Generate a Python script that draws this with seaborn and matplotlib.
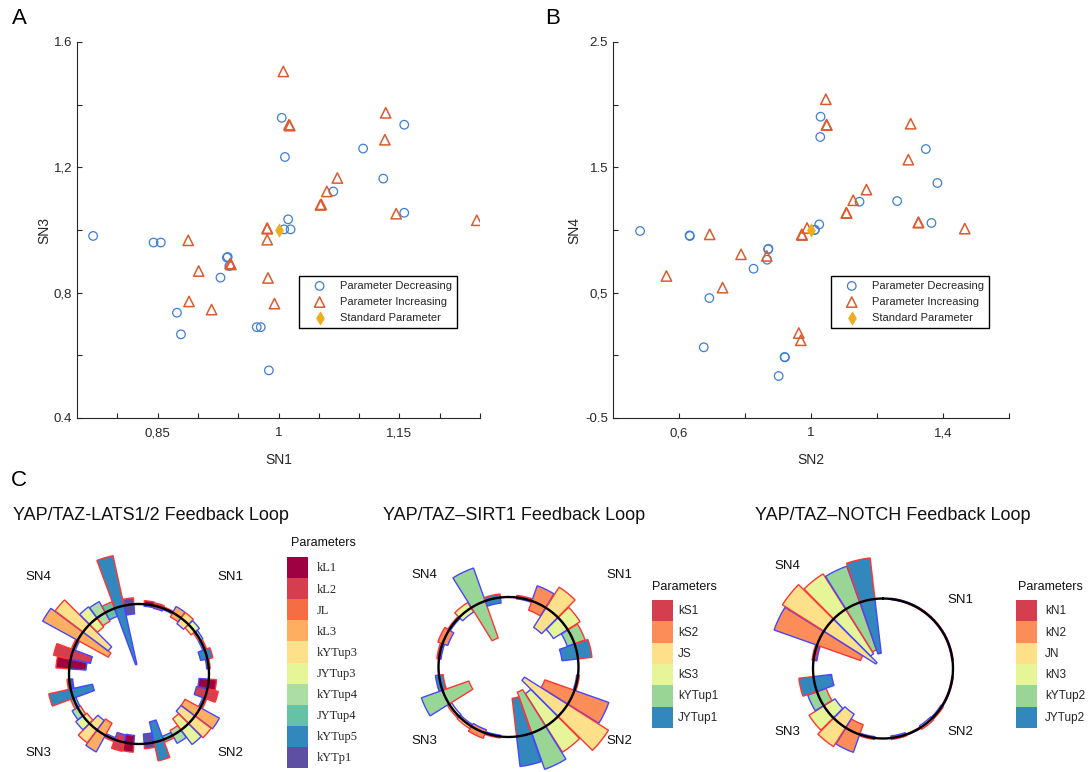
import numpy as np
import matplotlib
matplotlib.use("Agg")
import matplotlib.pyplot as plt
import seaborn as sns
from matplotlib.patches import Patch

sns.set_theme(style="ticks")
plt.rcParams['font.family'] = ['Liberation Sans', 'DejaVu Sans']

# ---------------- data: panel A (SN1 vs SN3) ----------------
A_dec_x = [0.770, 0.845, 0.854, 0.874, 0.879, 0.936, 0.937, 0.939, 0.928, 0.973, 0.978, 0.988,
           1.004, 1.008, 1.007, 1.012, 1.015, 1.068, 1.105, 1.130, 1.156, 1.156]
A_dec_y = [0.981, 0.960, 0.960, 0.736, 0.667, 0.912, 0.914, 0.885, 0.848, 0.690, 0.690, 0.552,
           1.358, 1.233, 1.002, 1.034, 1.002, 1.123, 1.260, 1.164, 1.336, 1.055]
A_inc_x = [1.006, 1.013, 1.014, 1.133, 1.132, 1.073, 1.060, 1.053, 1.052, 1.146, 1.246, 0.986,
           0.986, 0.986, 0.888, 0.940, 0.941, 0.901, 0.987, 0.889, 0.917, 0.995]
A_inc_y = [1.506, 1.336, 1.333, 1.374, 1.288, 1.166, 1.123, 1.082, 1.080, 1.052, 1.031, 1.004,
           1.006, 0.969, 0.967, 0.893, 0.890, 0.869, 0.847, 0.772, 0.746, 0.765]

# ---------------- data: panel B (SN2 vs SN4) ----------------
B_dec_x = [0.482, 0.632, 0.633, 0.692, 0.675, 0.870, 0.871, 0.867, 0.826, 0.920, 0.921, 0.902,
           1.029, 1.028, 1.011, 1.025, 1.147, 1.261, 1.348, 1.383, 1.365, 1.012]
B_dec_y = [0.992, 0.957, 0.952, 0.457, 0.064, 0.846, 0.850, 0.763, 0.691, -0.013, -0.016, -0.165,
           1.904, 1.742, 1.000, 1.045, 1.226, 1.231, 1.646, 1.375, 1.056, 1.002]
B_inc_x = [1.045, 1.047, 1.048, 1.302, 1.295, 1.168, 1.128, 1.107, 1.108, 1.325, 1.326, 1.466,
           0.988, 0.972, 0.693, 0.788, 0.866, 0.562, 0.732, 0.963, 0.969, 0.973]
B_inc_y = [2.043, 1.840, 1.837, 1.848, 1.561, 1.322, 1.237, 1.138, 1.135, 1.059, 1.062, 1.011,
           1.016, 0.965, 0.965, 0.806, 0.793, 0.633, 0.540, 0.178, 0.120, 0.960]
std_x = [1.0]
std_y = [1.0]

legend_labels = ["Parameter Decreasing", "Parameter Increasing", "Standard Parameter"]
A_xticks = [0.80, 0.85, 0.90, 0.95, 1.00, 1.05, 1.10, 1.15, 1.20, 1.25]
A_xticklabels = ["", "0,85", "", "", "1", "", "", "1,15", "", ""]
A_yticks = [0.4, 0.6, 0.8, 1.0, 1.2, 1.4, 1.6]
A_yticklabels = ["0.4", "", "0,8", "", "1,2", "", "1.6"]
B_xticks = [0.6, 0.8, 1.0, 1.2, 1.4, 1.6]
B_xticklabels = ["0,6", "", "1", "", "1,4", ""]
B_yticks = [-0.5, 0.0, 0.5, 1.0, 1.5, 2.0, 2.5]
B_yticklabels = ["-0.5", "", "0,5", "", "1.5", "", "2.5"]

# ---------------- data: panel C (polar bar charts) ----------------
sn_names = ["SN1", "SN2", "SN3", "SN4"]

lats_params = ["kL1", "kL2", "JL", "kL3", "kYTup3", "JYTup3", "kYTup4", "JYTup4", "kYTup5", "kYTp1"]
lats_inc = [[1.05, 1.04, 1.02, 0.93, 1.10, 0.93, 0.97, 1.03, 1.08, 1.02],
            [1.11, 1.16, 1.03, 0.75, 1.29, 0.80, 0.92, 1.04, 1.27, 1.07],
            [1.12, 1.13, 1.03, 0.80, 1.23, 0.93, 0.95, 1.04, 1.32, 1.03],
            [1.19, 1.25, 1.03, 0.50, 1.50, 0.84, 0.86, 1.10, 1.73, 1.09]]
lats_dec = [[0.97, 0.96, 0.98, 1.10, 0.90, 1.08, 1.04, 0.97, 0.90, 0.97],
            [0.86, 0.84, 0.97, 1.31, 0.75, 1.26, 1.13, 0.95, 0.70, 0.86],
            [0.88, 0.89, 0.97, 1.27, 0.83, 1.13, 1.09, 0.96, 0.68, 0.95],
            [0.76, 0.71, 0.97, 1.57, 0.55, 1.20, 1.18, 0.88, 0.14, 0.86]]

sirt_params = ["kS1", "kS2", "JS", "kS3", "kYTup1", "JYTup1"]
sirt_inc = [[1.03, 0.86, 1.35, 1.21, 1.16, 1.20],
            [1.02, 0.55, 1.69, 1.44, 0.38, 0.45],
            [1.02, 1.08, 1.04, 1.03, 0.60, 0.94],
            [1.03, 1.07, 1.02, 1.09, 0.44, 1.05]]
sirt_dec = [[0.98, 1.23, 0.67, 0.76, 0.89, 0.77],
            [0.98, 1.52, 0.27, 0.45, 1.55, 1.43],
            [0.98, 0.95, 0.97, 0.96, 1.32, 1.05],
            [0.97, 0.92, 0.98, 0.93, 1.50, 0.92]]

notch_params = ["kN1", "kN2", "JN", "kN3", "kYTup2", "JYTup2"]
notch_inc = [[1.01, 0.99, 1.01, 1.01, 0.99, 1.01],
             [1.01, 0.99, 1.02, 1.03, 0.99, 1.02],
             [1.02, 0.85, 1.32, 1.25, 0.86, 1.21],
             [1.02, 0.34, 1.70, 1.60, 0.28, 1.59]]
notch_dec = [[0.99, 1.01, 0.99, 0.99, 1.01, 0.99],
             [0.99, 1.01, 0.98, 0.97, 1.01, 0.97],
             [0.98, 1.27, 0.77, 0.81, 1.14, 0.74],
             [0.95, 1.65, 0.12, 0.25, 1.55, 0.22]]

pal10 = sns.color_palette(['#9E0142', '#D53E4F', '#F46D43', '#FDAE61', '#FEE08B',
                           '#E6F598', '#ABDDA4', '#66C2A5', '#3288BD', '#5E4FA2'])
pal6 = sns.color_palette(['#D53E4F', '#FC8D59', '#FEE08B', '#E6F598', '#99D594', '#3288BD'])

# ---------------- styling ----------------
BLUE = '#3F7FD3'
ORANGE = '#DE5A2C'
GOLD = '#EDAE1E'
EDGE_INC = '#FF3535'
EDGE_DEC = '#4646FF'
INK = '#262626'

W, H = 1088, 772
fig = plt.figure(figsize=(W / 100, H / 100), dpi=100)


def fx(x):
    return x / W


def fy(y):
    return 1 - y / H


def scatter_panel(ax, dx, dy, ix, iy, xlabel, ylabel, xlim, ylim,
                  xticks, xtl, yticks, ytl, ylabelpad):
    sns.scatterplot(x=dx, y=dy, ax=ax, marker='o', s=38, facecolor='none',
                    edgecolor=BLUE, linewidth=0.9, label=legend_labels[0], zorder=3)
    sns.scatterplot(x=ix, y=iy, ax=ax, marker='^', s=55, facecolor='none',
                    edgecolor=ORANGE, linewidth=1.1, label=legend_labels[1], zorder=3)
    sns.scatterplot(x=std_x, y=std_y, ax=ax, marker='d', s=45, color=GOLD,
                    edgecolor=GOLD, linewidth=0.5, label=legend_labels[2], zorder=4)
    ax.set_xlim(*xlim)
    ax.set_ylim(*ylim)
    ax.set_xticks(xticks)
    ax.set_xticklabels(xtl)
    ax.set_yticks(yticks)
    ax.set_yticklabels(ytl)
    sns.despine(ax=ax)
    for s in ('left', 'bottom'):
        ax.spines[s].set_linewidth(0.8)
        ax.spines[s].set_color(INK)
    ax.tick_params(axis='both', direction='in', length=3.5, width=0.8,
                   labelsize=9.5, colors=INK)
    ax.tick_params(axis='x', pad=6.5)
    ax.tick_params(axis='y', pad=3.5)
    ax.set_xlabel(xlabel, fontsize=10, labelpad=10, color=INK)
    ax.set_ylabel(ylabel, fontsize=10, labelpad=ylabelpad, color=INK)
    ax.grid(False)
    leg = ax.legend(loc='upper left', bbox_to_anchor=(0.551, 0.378), frameon=True,
                    fancybox=False, edgecolor='black', framealpha=1, fontsize=8,
                    borderaxespad=0, borderpad=0.45, labelspacing=0.55,
                    handlelength=2.8, handletextpad=0.4, scatterpoints=1)
    leg.get_frame().set_linewidth(1.0)


axA = fig.add_axes([fx(77), fy(418), (480 - 77) / W, (418 - 42) / H])
scatter_panel(axA, A_dec_x, A_dec_y, A_inc_x, A_inc_y, "SN1", "SN3", (0.75, 1.25), (0.4, 1.6),
              A_xticks, A_xticklabels, A_yticks, A_yticklabels, 1.5)

axB = fig.add_axes([fx(613), fy(418), (1009 - 613) / W, (418 - 42) / H])
scatter_panel(axB, B_dec_x, B_dec_y, B_inc_x, B_inc_y, "SN2", "SN4", (0.4, 1.6), (-0.5, 2.5),
              B_xticks, B_xticklabels, B_yticks, B_yticklabels, 3)

for letter, (px, py) in zip("ABC", [(19, 18), (553, 18), (19, 480)]):
    fig.text(fx(px), fy(py), letter, fontsize=16, ha='center', va='center', color='black')


# ---------------- polar charts ----------------
R_MAX = 2.0
R_PX = 70


def polar_chart(cx, cy, params, colors, inc, dec, title, title_x,
                sn_pos, leg_left, leg_top, box_px, leg_fs, leg_family, leg_gap, ptitle_pos):
    half = R_MAX * R_PX
    ax = fig.add_axes([fx(cx - half), fy(cy + half), 2 * half / W, 2 * half / H],
                      projection='polar')
    ax.set_theta_zero_location('N')
    ax.set_theta_direction(-1)
    ax.set_ylim(0, R_MAX)
    ax.set_axis_off()
    n = len(params)
    slot = (np.pi / 2) / (n + 1)
    for q in range(4):
        for i in range(n):
            th = q * np.pi / 2 + (i + 1) * slot
            for vals, ec in ((dec, EDGE_DEC), (inc, EDGE_INC)):
                v = vals[q][i]
                ax.bar(th, v - 1.0, bottom=1.0, width=slot * 0.97, color=colors[i],
                       edgecolor=ec, linewidth=1.0, zorder=2)
    t = np.linspace(0, 2 * np.pi, 400)
    ax.plot(t, np.ones_like(t), color='black', lw=1.7, zorder=5)

    fig.text(fx(title_x), fy(515), title, fontsize=13, ha='left', va='center', color='#111111')
    for name, (px, py) in zip(sn_names, sn_pos):
        fig.text(fx(px), fy(py), name, fontsize=9.5, ha='center', va='center', color='#111111')

    fs_px = leg_fs * 100 / 72
    hh = (box_px / fs_px - 0.245) / 0.65
    hl = box_px / fs_px
    handles = [Patch(facecolor=c, edgecolor='none') for c in colors]
    fig.legend(handles, params, loc='upper left',
               bbox_to_anchor=(fx(leg_left), fy(leg_top)), frameon=False,
               borderpad=0, borderaxespad=0, labelspacing=0, handlelength=hl,
               handleheight=hh, handletextpad=leg_gap / fs_px,
               prop={'family': leg_family, 'size': leg_fs})
    fig.text(fx(ptitle_pos[0]), fy(ptitle_pos[1]), "Parameters", fontsize=9,
             ha='center', va='center', color='#111111')
    return ax


polar_chart(139, 674, lats_params, pal10, lats_inc, lats_dec,
            "YAP/TAZ-LATS1/2 Feedback Loop", 13,
            [(230, 577), (230, 753), (38, 753), (38, 577)],
            287, 557, 21.1, 9, ['Liberation Serif', 'DejaVu Serif'], 9, (323, 543))

polar_chart(508.5, 667, sirt_params, pal6, sirt_inc, sirt_dec,
            "YAP/TAZ\u2013SIRT1 Feedback Loop", 383,
            [(619, 575), (619, 741), (424, 741), (424, 575)],
            652, 600, 21.3, 8.5, ['Liberation Sans', 'DejaVu Sans'], 5, (684, 587))

polar_chart(883, 668.5, notch_params, pal6, notch_inc, notch_dec,
            "YAP/TAZ\u2013NOTCH Feedback Loop", 755,
            [(960, 600), (960, 732), (787, 732), (787, 566)],
            1016, 600, 21.3, 8.5, ['Liberation Sans', 'DejaVu Sans'], 8, (1050, 587))

fig.savefig("out.png", dpi=100)
